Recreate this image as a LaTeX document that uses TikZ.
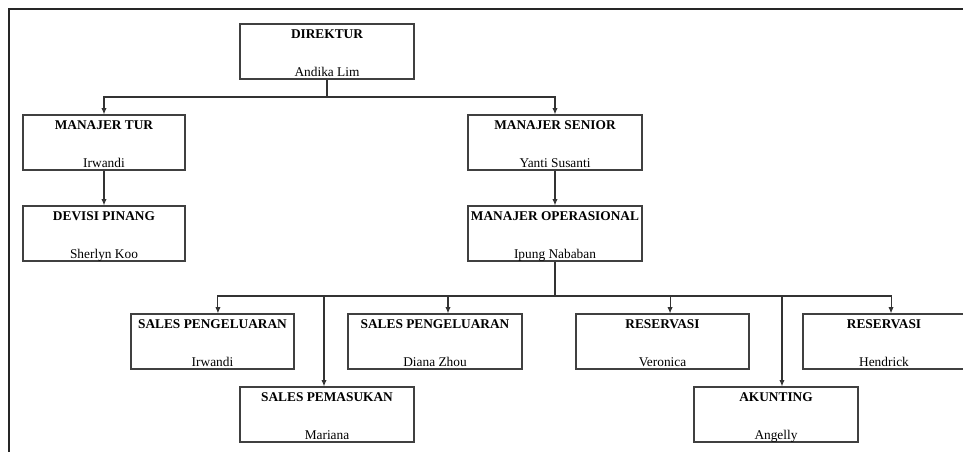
\documentclass[tikz,border=0pt]{standalone}
\usepackage{fontspec}
\setmainfont{Liberation Serif}
\usetikzlibrary{positioning,arrows.meta}

\begin{document}
\begin{tikzpicture}[x=0.02cm, y=-0.02cm,
  font=\fontsize{7.6}{9}\selectfont,
  box/.style={draw=black!75, line width=0.65pt, minimum width=3.48cm, minimum height=1.1cm, inner sep=0pt},
  title/.style={anchor=base, yshift=-8.5pt, font=\fontsize{7.6}{9}\selectfont\bfseries},
  person/.style={anchor=base, yshift=1.7pt},
  link/.style={draw=black!80, line width=0.6pt},
  arr/.style={link, -{Latex[length=3.6pt,width=3pt]}}]
\useasboundingbox (0,0) rectangle (963,452);
\clip (0,0) rectangle (963,452);
% Frame
\draw[black!85, line width=1pt] (9.3,452) -- (9.3,8.7) -- (963,8.7);
% Boxes
\node[box] (dir) at (327,51.5) {};
\node[box, minimum width=3.24cm] (mtur) at (104,142.5) {};
\node[box, minimum width=3.24cm] (dev) at (104,233.5) {};
\node[box] (msen) at (555,142.5) {};
\node[box] (mops) at (555,233.5) {};
\node[box, minimum width=3.26cm] (sp1) at (212.5,341.5) {};
\node[box] (sp2) at (435,341.5) {};
\node[box, minimum width=3.46cm] (res1) at (662.5,341.5) {};
\node[box, minimum width=3.24cm] (res2) at (884,341.5) {};
\node[box] (spem) at (327,414.5) {};
\node[box, minimum width=3.28cm] (akun) at (776,414.5) {};
% Texts
\node[title] at (dir.north) {DIREKTUR};
\node[person] at (dir.south) {Andika Lim};
\node[title] at (mtur.north) {MANAJER TUR};
\node[person] at (mtur.south) {Irwandi};
\node[title] at (dev.north) {DEVISI PINANG};
\node[person] at (dev.south) {Sherlyn Koo};
\node[title] at (msen.north) {MANAJER SENIOR};
\node[person] at (msen.south) {Yanti Susanti};
\node[title] at (mops.north) {MANAJER OPERASIONAL};
\node[person] at (mops.south) {Ipung Nababan};
\node[title] at (sp1.north) {SALES PENGELUARAN};
\node[person] at (sp1.south) {Irwandi};
\node[title] at (sp2.north) {SALES PENGELUARAN};
\node[person] at (sp2.south) {Diana Zhou};
\node[title] at (res1.north) {RESERVASI};
\node[person] at (res1.south) {Veronica};
\node[title] at (res2.north) {RESERVASI};
\node[person] at (res2.south) {Hendrick};
\node[title] at (spem.north) {SALES PEMASUKAN};
\node[person] at (spem.south) {Mariana};
\node[title] at (akun.north) {AKUNTING};
\node[person] at (akun.south) {Angelly};
% Lines
\coordinate (top) at (dir.south |- 0,97);
\coordinate (bus) at (mops.south |- 0,296);
\draw[link] (dir.south) -- (top);
\draw[arr] (top) -| (mtur.north);
\draw[arr] (top) -| (msen.north);
\draw[arr] (mtur.south) -- (dev.north);
\draw[arr] (msen.south) -- (mops.north);
\draw[link] (mops.south) -- (bus);
\draw[arr] (bus) -| ([xshift=3.1pt]sp1.north);
\draw[arr] (bus) -| ([xshift=-1.7pt]spem.north);
\draw[arr] (bus) -| ([xshift=7.4pt]sp2.north);
\draw[arr] (bus) -| ([xshift=4.3pt]res1.north);
\draw[arr] (bus) -| ([xshift=3.4pt]akun.north);
\draw[arr] (bus) -| ([xshift=4pt]res2.north);
\end{tikzpicture}
\end{document}
